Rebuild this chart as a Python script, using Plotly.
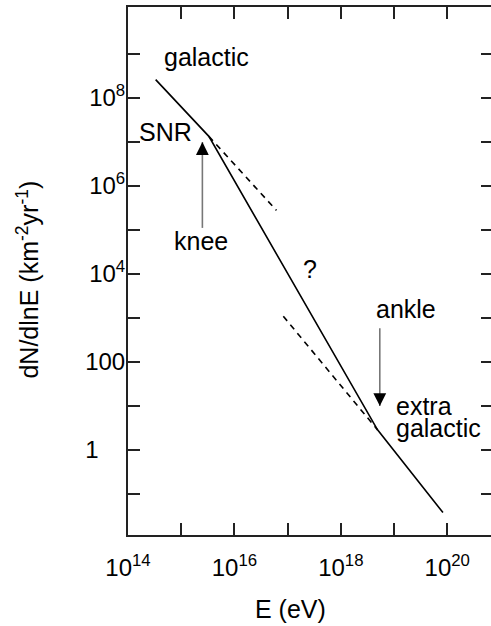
import plotly.graph_objects as go
import math

# ---- data ----
spectrum_E = [3.31e14, 3.31e15, 4.9e18, 8.3e19]
spectrum_flux = [2.63e8, 1.35e7, 2.88, 0.038]

upper_dash_E = [3.31e15, 6.17e16]
upper_dash_flux = [1.35e7, 2.8e5]

lower_dash_E = [8.3e16, 4.9e18]
lower_dash_flux = [1.1e3, 2.88]

knee_arrow_E = [2.5e15, 2.5e15]
knee_arrow_flux = [1.12e5, 1.0e7]
ankle_arrow_E = [5.4e18, 5.4e18]
ankle_arrow_flux = [589, 10]

x_tickvals = [1e14, 1e15, 1e16, 1e17, 1e18, 1e19, 1e20]
x_ticktext = ["10<sup>14</sup>", "", "10<sup>16</sup>", "", "10<sup>18</sup>", "", "10<sup>20</sup>"]
y_tickvals = [1e-1, 1e0, 1e1, 1e2, 1e3, 1e4, 1e5, 1e6, 1e7, 1e8, 1e9]
y_ticktext = ["", "1\u2007\u2007", "", "100", "", "10<sup>4</sup>", "", "10<sup>6</sup>", "", "10<sup>8</sup>", ""]

labels = [
    ("galactic", 15.47, 8.93, "center"),
    ("SNR", 14.70, 7.23, "center"),
    ("knee", 15.38, 4.75, "center"),
    ("?", 17.42, 4.11, "center"),
    ("ankle", 19.22, 3.20, "center"),
    ("extra", 19.0, 1.0, "left"),
    ("galactic", 19.0, 0.5, "left"),
]

FONT = "Liberation Sans, Arial, Helvetica, sans-serif"

fig = go.Figure()
fig.add_trace(go.Scatter(x=spectrum_E, y=spectrum_flux, mode="lines",
                         line=dict(color="black", width=1.6), showlegend=False))
fig.add_trace(go.Scatter(x=upper_dash_E, y=upper_dash_flux, mode="lines",
                         line=dict(color="black", width=1.6, dash="6px,5px"), showlegend=False))
fig.add_trace(go.Scatter(x=lower_dash_E, y=lower_dash_flux, mode="lines",
                         line=dict(color="black", width=1.6, dash="6px,5px"), showlegend=False))
for ax_E, ax_f in [(knee_arrow_E, knee_arrow_flux), (ankle_arrow_E, ankle_arrow_flux)]:
    fig.add_trace(go.Scatter(x=ax_E, y=ax_f, mode="lines",
                             line=dict(color="#777777", width=1.6), showlegend=False))
    tipx = math.log10(ax_E[1])
    tipy = math.log10(ax_f[1])
    direction = 1 if ax_f[1] > ax_f[0] else -1
    fig.add_annotation(x=tipx, y=tipy, ax=tipx, ay=tipy - direction * 0.22,
                       xref="x", yref="y", axref="x", ayref="y", text="",
                       showarrow=True, arrowhead=2, arrowsize=1.6, arrowwidth=1.6,
                       arrowcolor="black", standoff=0)

for txt, lx, ly, al in labels:
    fig.add_annotation(x=lx, y=ly, xref="x", yref="y", text=txt, showarrow=False,
                       xanchor=al, yanchor="middle",
                       font=dict(family=FONT, size=25, color="black"))

# plot area extends slightly past the 491 px window, as in the reference
W, H = 495, 626
L, R, T, B = 128, 0, 7, 91

def px_to_paper(px, py):
    return (px - L) / (W - L - R), 1 - (py - T) / (H - T - B)

tx, ty = px_to_paper(291.5, 609)
fig.add_annotation(x=tx, y=ty, xref="paper", yref="paper", text="E (eV)",
                   xanchor="center", yanchor="middle",
                   showarrow=False, font=dict(family=FONT, size=25, color="black"))
tx, ty = px_to_paper(27, 280)
fig.add_annotation(x=tx, y=ty, xref="paper", yref="paper",
                   text="dN/dlnE (km<sup>-2</sup>yr<sup>-1</sup>)",
                   xanchor="center", yanchor="middle",
                   showarrow=False, textangle=-90, font=dict(family=FONT, size=25, color="black"))

fig.update_xaxes(type="log", range=[14, 20.86], tickvals=x_tickvals, ticktext=x_ticktext,
                 ticks="inside", ticklen=12, tickwidth=1.5, tickcolor="#222",
                 showline=True, linecolor="#222", linewidth=2, mirror="allticks",
                 showgrid=False, zeroline=False, ticklabelstandoff=10,
                 tickfont=dict(family=FONT, size=24, color="black"))
fig.update_yaxes(type="log", range=[-1.93, 10.07], tickvals=y_tickvals, ticktext=y_ticktext,
                 ticks="inside", ticklen=12, tickwidth=1.5, tickcolor="#222",
                 showline=True, linecolor="#222", linewidth=2, mirror="allticks",
                 showgrid=False, zeroline=False, ticklabelstandoff=-4,
                 tickfont=dict(family=FONT, size=24, color="black"))
fig.update_layout(width=W, height=H, margin=dict(l=L, r=R, t=T, b=B),
                  plot_bgcolor="white", paper_bgcolor="white", showlegend=False)
fig.write_html("out.html", config={"displayModeBar": False},
               post_script="document.body.style.margin='0px';"
                           "document.body.style.overflow='hidden';"
                           "document.documentElement.style.overflow='hidden';")
